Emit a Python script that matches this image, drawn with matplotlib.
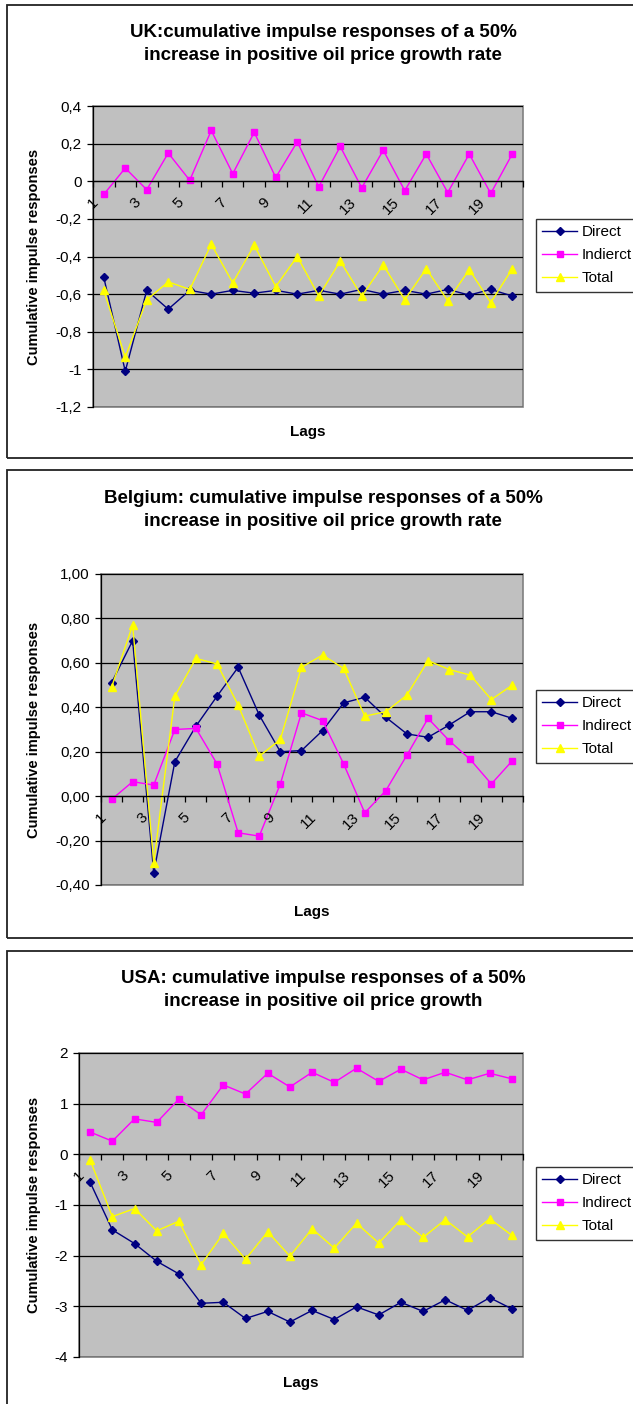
import matplotlib
matplotlib.use("Agg")
import matplotlib.pyplot as plt
from matplotlib.patches import Rectangle
from matplotlib.transforms import ScaledTranslation

plt.rcParams['font.family'] = ['Liberation Sans', 'DejaVu Sans']

# ---------------- data ----------------
lags = list(range(1, 21))
lag_labels = [str(v) if v % 2 == 1 else "" for v in lags]

uk_direct = [-0.51, -1.01, -0.58, -0.68, -0.58, -0.60, -0.58, -0.595, -0.58, -0.60,
             -0.58, -0.60, -0.575, -0.60, -0.58, -0.60, -0.575, -0.605, -0.575, -0.61]
uk_indirect = [-0.07, 0.07, -0.045, 0.15, 0.005, 0.27, 0.04, 0.26, 0.02, 0.21,
               -0.03, 0.185, -0.035, 0.165, -0.05, 0.145, -0.06, 0.145, -0.065, 0.145]
uk_total = [-0.58, -0.935, -0.63, -0.535, -0.575, -0.335, -0.54, -0.34, -0.56, -0.40,
            -0.61, -0.425, -0.61, -0.445, -0.63, -0.465, -0.635, -0.47, -0.645, -0.465]

be_direct = [0.51, 0.70, -0.345, 0.155, 0.315, 0.45, 0.58, 0.365, 0.20, 0.205,
             0.295, 0.42, 0.445, 0.355, 0.28, 0.265, 0.32, 0.38, 0.38, 0.35]
be_indirect = [-0.015, 0.065, 0.05, 0.30, 0.305, 0.145, -0.165, -0.18, 0.055, 0.375,
               0.34, 0.145, -0.075, 0.025, 0.185, 0.35, 0.25, 0.165, 0.055, 0.16]
be_total = [0.49, 0.77, -0.30, 0.45, 0.62, 0.595, 0.41, 0.18, 0.255, 0.58,
            0.635, 0.575, 0.36, 0.38, 0.455, 0.61, 0.57, 0.545, 0.435, 0.50]

us_direct = [-0.55, -1.49, -1.76, -2.11, -2.36, -2.94, -2.92, -3.24, -3.10, -3.31,
             -3.08, -3.26, -3.01, -3.17, -2.92, -3.10, -2.87, -3.08, -2.83, -3.05]
us_indirect = [0.44, 0.26, 0.70, 0.63, 1.09, 0.78, 1.37, 1.19, 1.60, 1.33,
               1.62, 1.42, 1.70, 1.44, 1.68, 1.47, 1.62, 1.47, 1.60, 1.49]
us_total = [-0.11, -1.23, -1.07, -1.51, -1.32, -2.18, -1.56, -2.07, -1.53, -2.01,
            -1.47, -1.85, -1.36, -1.75, -1.29, -1.64, -1.29, -1.63, -1.27, -1.60]

uk_yticks = [0.4, 0.2, 0.0, -0.2, -0.4, -0.6, -0.8, -1.0, -1.2]
uk_yticklabels = ["0,4", "0,2", "0", "-0,2", "-0,4", "-0,6", "-0,8", "-1", "-1,2"]
be_yticks = [1.0, 0.8, 0.6, 0.4, 0.2, 0.0, -0.2, -0.4]
be_yticklabels = ["1,00", "0,80", "0,60", "0,40", "0,20", "0,00", "-0,20", "-0,40"]
us_yticks = [2, 1, 0, -1, -2, -3, -4]
us_yticklabels = ["2", "1", "0", "-1", "-2", "-3", "-4"]

uk_title = "UK:cumulative impulse responses of a 50%\nincrease in positive oil price growth rate"
be_title = "Belgium: cumulative impulse responses of a 50%\nincrease in positive oil price growth rate"
us_title = "USA: cumulative impulse responses of a 50%\nincrease in positive oil price growth"

uk_names = ["Direct", "Indierct", "Total"]
be_names = ["Direct", "Indirect", "Total"]
us_names = ["Direct", "Indirect", "Total"]

# ---------------- layout helpers ----------------
W, H = 633, 1404
DPI = 100
fig = plt.figure(figsize=(W / DPI, H / DPI), dpi=DPI)
fig.patch.set_facecolor('white')


def rect(x0, y0, x1, y1):
    return [x0 / W, 1 - y1 / H, (x1 - x0) / W, (y1 - y0) / H]


def fx(x):
    return x / W


def fy(y):
    return 1 - y / H


colors = ['#000080', '#FF00FF', '#FFFF00']
markers = ['D', 's', '^']
msizes = [4.2, 5.0, 6.0]


def panel(box, axbox, ylim, yticks, yticklabels, series, names, title, title_y,
          ylabel_x, lags_y, legend_xy):
    bx0, by0, bx1, by1 = box
    fig.add_artist(Rectangle((fx(bx0), fy(by1)), (bx1 - bx0) / W, (by1 - by0) / H,
                             transform=fig.transFigure, fill=False,
                             ec='#222222', lw=1.3))
    ax = fig.add_axes(rect(*axbox))
    ax.set_facecolor('#C0C0C0')
    ax.patch.set_edgecolor('#808080')
    ax.patch.set_linewidth(1.2)
    ax.set_xlim(0.5, 20.5)
    ax.set_ylim(*ylim)
    ax.set_yticks(yticks)
    ax.set_yticklabels(yticklabels)
    ax.grid(axis='y', color='black', lw=0.9)
    ax.set_axisbelow(True)
    for s in ['top', 'right']:
        ax.spines[s].set_visible(False)
    ax.spines['left'].set_color('black')
    ax.spines['left'].set_linewidth(0.9)
    ax.spines['bottom'].set_position(('data', 0))
    ax.spines['bottom'].set_color('black')
    ax.spines['bottom'].set_linewidth(0.9)
    ax.tick_params(axis='y', direction='out', length=4, width=0.9, pad=4,
                   labelsize=11, colors='black')
    ax.set_xticks([v + 0.5 for v in [0] + lags])
    ax.set_xticklabels([])
    ax.tick_params(axis='x', direction='out', length=4, width=0.9)
    off = ScaledTranslation(-3 / DPI, -14 / DPI, fig.dpi_scale_trans)
    for v, lab in zip(lags, lag_labels):
        if lab:
            ax.text(v, 0, lab, transform=ax.transData + off, rotation=45,
                    ha='right', va='top', fontsize=11, clip_on=False)
    handles = []
    for vals, c, m, ms, nm in zip(series, colors, markers, msizes, names):
        ln, = ax.plot(lags, vals, color=c, marker=m, markersize=ms, lw=1.0,
                      markerfacecolor=c, markeredgecolor=c, label=nm, clip_on=False)
        handles.append(ln)
    fig.text(fx(323), fy(title_y), title, ha='center', va='center',
             fontsize=13.5, fontweight='bold', linespacing=1.4)
    ax0, ay0, ax1, ay1 = axbox
    fig.text(fx(ylabel_x), fy((ay0 + ay1) / 2), "Cumulative impulse responses",
             rotation=90, ha='center', va='center', fontsize=10.5, fontweight='bold')
    fig.text(fx((ax0 + ax1) / 2), fy(lags_y), "Lags", ha='center', va='center',
             fontsize=11, fontweight='bold')
    leg = fig.legend(handles=handles, loc='upper left',
                     bbox_to_anchor=(fx(legend_xy[0]), fy(legend_xy[1])),
                     bbox_transform=fig.transFigure, frameon=True, fancybox=False,
                     fontsize=11, borderpad=0.4, labelspacing=0.6,
                     handlelength=2.3, handletextpad=0.3, borderaxespad=0)
    leg.get_frame().set_edgecolor('black')
    leg.get_frame().set_linewidth(1.0)
    return ax


panel((7, 5, 660, 458), (93, 106, 523, 407), (-1.2, 0.4), uk_yticks, uk_yticklabels,
      [uk_direct, uk_indirect, uk_total], uk_names, uk_title, 44,
      34, 432, (536, 219))

panel((7, 470, 660, 938), (101, 574, 523, 885), (-0.4, 1.0), be_yticks, be_yticklabels,
      [be_direct, be_indirect, be_total], be_names, be_title, 510,
      34, 912, (536, 690))

panel((7, 951, 660, 1420), (79, 1053, 523, 1357), (-4, 2), us_yticks, us_yticklabels,
      [us_direct, us_indirect, us_total], us_names, us_title, 990,
      34, 1383, (536, 1167))

fig.savefig("out.png", dpi=DPI)
